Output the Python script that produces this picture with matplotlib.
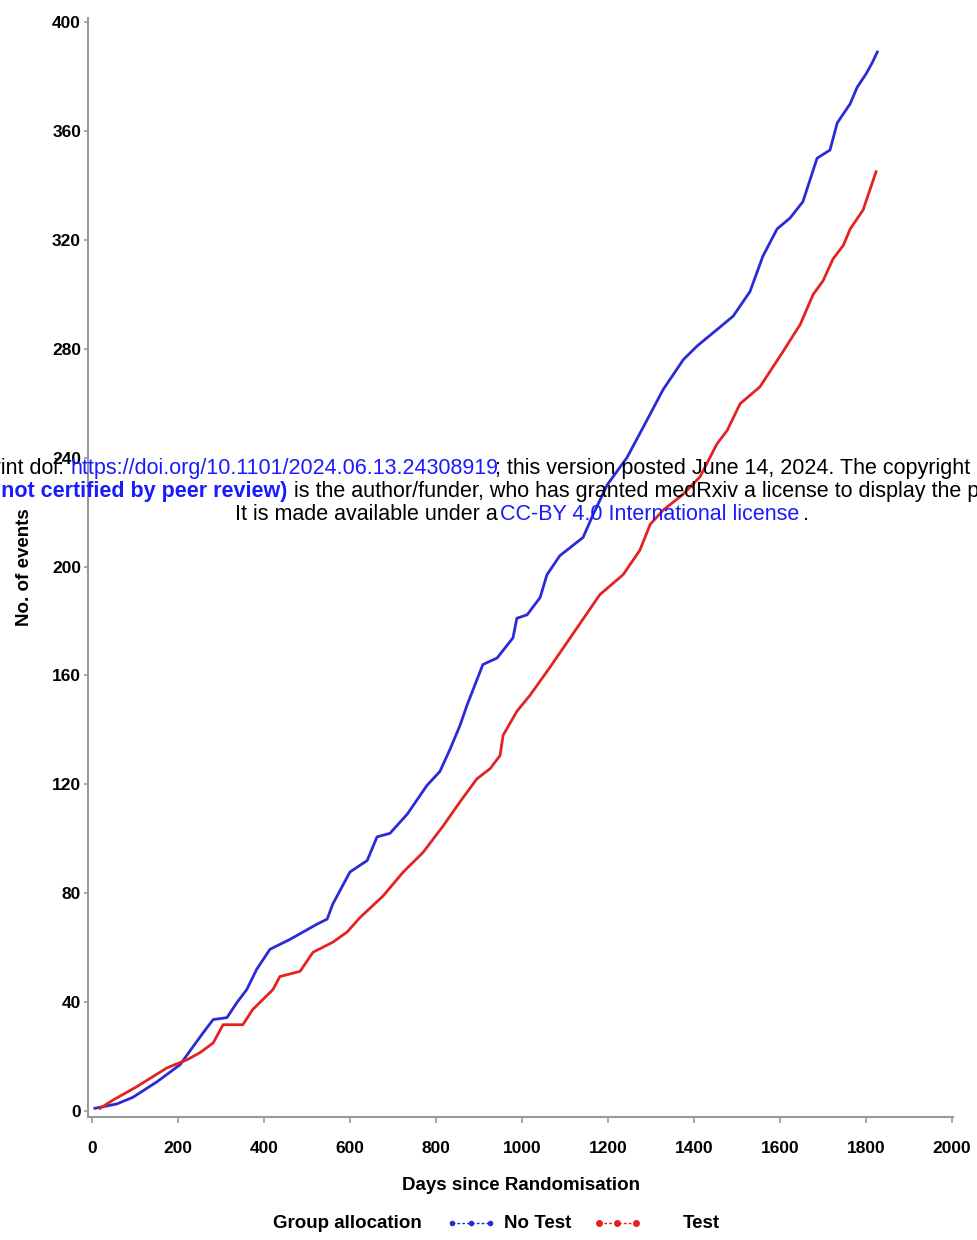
import matplotlib
matplotlib.use("Agg")
import matplotlib.pyplot as plt
from matplotlib.lines import Line2D

# ---------------- data ----------------
no_test_days = [7, 58, 95, 151, 205, 235, 258, 282, 314, 337, 360, 383, 414, 460, 523, 547,
                560, 600, 640, 663, 693, 733, 779, 809, 833, 856, 872, 909, 942, 979, 988,
                1012, 1042, 1058, 1088, 1142, 1165, 1198, 1244, 1298, 1328, 1375, 1407, 1453,
                1491, 1530, 1560, 1593, 1623, 1653, 1686, 1716, 1733, 1763, 1779, 1800, 1814, 1826]
no_test_events = [1, 2.6, 5, 10.7, 17, 23.6, 28.6, 33.6, 34.3, 39.8, 44.6, 52, 59.4, 63, 68.6, 70.5,
                  76, 87.8, 92, 100.7, 102, 109, 119.6, 124.7, 133, 141.7, 149, 164, 166.4, 173.8, 181,
                  182.3, 188.6, 197, 204, 210.7, 219, 230, 240, 256, 265, 276, 281, 287,
                  292, 301, 314, 324, 328, 334, 350, 353, 363, 370, 376, 381, 385, 389]

test_days = [19, 49, 105, 174, 221, 251, 282, 305, 351, 374, 421, 437, 484, 514, 560, 593, 623,
             677, 724, 770, 817, 856, 895, 926, 949, 956, 988, 1019, 1065, 1128, 1181, 1235,
             1274, 1298, 1328, 1375, 1414, 1453, 1477, 1507, 1553, 1607, 1647, 1677, 1700,
             1723, 1747, 1763, 1793, 1823]
test_events = [1, 4, 9, 15.8, 18.8, 21.4, 25, 31.7, 31.7, 37.3, 44.6, 49.4, 51.3, 58.3, 62, 65.7, 71,
               79, 87.8, 95, 104.8, 113.6, 122, 125.8, 130.6, 138, 146.8, 152.8, 163, 177.5, 189.7, 197,
               206, 215.5, 220.7, 226.6, 233, 245, 250, 259.8, 266, 279, 289, 300, 305,
               313, 318, 324, 331, 345]

x_ticks = [0, 200, 400, 600, 800, 1000, 1200, 1400, 1600, 1800, 2000]
y_ticks = [0, 40, 80, 120, 160, 200, 240, 280, 320, 360, 400]
series_labels = ["No Test", "Test"]
legend_title = "Group allocation"
x_label = "Days since Randomisation"
y_label = "No. of events"

BLUE = "#2a2ad8"
RED = "#e42222"
GREY = "#9a9a9a"

W, H = 977, 1240
fig = plt.figure(figsize=(W / 100, H / 100), dpi=100)
plt.rcParams['font.family'] = ['Liberation Sans', 'DejaVu Sans']

def fx(px):
    return px / W

def fy(py):
    return 1 - py / H

ax_left, ax_right, ax_top, ax_bot = 88, 953, 18, 1117
ax = fig.add_axes([fx(ax_left), fy(ax_bot), (ax_right - ax_left) / W, (ax_bot - ax_top) / H])

ax.plot(no_test_days, no_test_events, color=BLUE, lw=2.0, solid_joinstyle='round')
ax.plot(test_days, test_events, color=RED, lw=2.0, solid_joinstyle='round')

ax.set_xlim(-9, 2002)
ax.set_ylim(-2.2, 401.5)
ax.set_xticks(x_ticks)
ax.set_yticks(y_ticks)
ax.set_xticklabels([str(v) for v in x_ticks], fontsize=12.5, fontweight='bold')
ax.set_yticklabels([str(v) for v in y_ticks], fontsize=12.5, fontweight='bold')
for s in ['top', 'right']:
    ax.spines[s].set_visible(False)
for s in ['left', 'bottom']:
    ax.spines[s].set_color(GREY)
    ax.spines[s].set_linewidth(1.5)
ax.tick_params(axis='x', length=4, width=1.2, color=GREY, pad=13)
ax.tick_params(axis='y', length=3, width=1.2, color=GREY, pad=2)

# axis labels
fig.text(fx(521), fy(1186), x_label, ha='center', va='center', fontsize=13.5, fontweight='bold')
fig.text(fx(25), fy(567), y_label, ha='center', va='center', rotation=90,
         fontsize=13.5, fontweight='bold')

# legend row
ly = fy(1223)
fig.text(fx(273), ly, legend_title, ha='left', va='center', fontsize=13.5, fontweight='bold')
fig.lines.append(Line2D([fx(452), fx(471), fx(490)], [ly, ly, ly], transform=fig.transFigure,
                        color=BLUE, lw=1.0, ls=(0, (2, 1.5)), marker='o', markersize=3))
fig.text(fx(504), ly, series_labels[0], ha='left', va='center', fontsize=13.5, fontweight='bold')
fig.lines.append(Line2D([fx(599), fx(617), fx(636)], [ly, ly, ly], transform=fig.transFigure,
                        color=RED, lw=1.0, ls=(0, (2, 1.5)), marker='o', markersize=4))
fig.text(fx(683), ly, series_labels[1], ha='left', va='center', fontsize=13.5, fontweight='bold')

# medRxiv watermark overlay
WM = 15.5
WBLUE = "#1a1aff"
l1, l2, l3 = fy(469), fy(492), fy(514)
fig.text(fx(70), l1, "medRxiv preprint doi: ", ha='right', va='center', fontsize=WM, color='black')
fig.text(fx(70), l1, "https://doi.org/10.1101/2024.06.13.24308919", ha='left', va='center',
         fontsize=WM, color=WBLUE)
fig.text(fx(495), l1, "; this version posted June 14, 2024. The copyright holder for this preprint",
         ha='left', va='center', fontsize=WM, color='black')
fig.text(fx(287), l2, "(which was not certified by peer review)", ha='right', va='center',
         fontsize=WM, color=WBLUE, fontweight='bold')
fig.text(fx(294), l2, "is the author/funder, who has granted medRxiv a license to display the preprint in perpetuity.",
         ha='left', va='center', fontsize=WM, color='black')
fig.text(fx(235), l3, "It is made available under a", ha='left', va='center', fontsize=WM, color='black')
fig.text(fx(500), l3, "CC-BY 4.0 International license", ha='left', va='center', fontsize=WM, color=WBLUE)
fig.text(fx(803), l3, ".", ha='left', va='center', fontsize=WM, color='black')

fig.savefig("out.png", dpi=100)
